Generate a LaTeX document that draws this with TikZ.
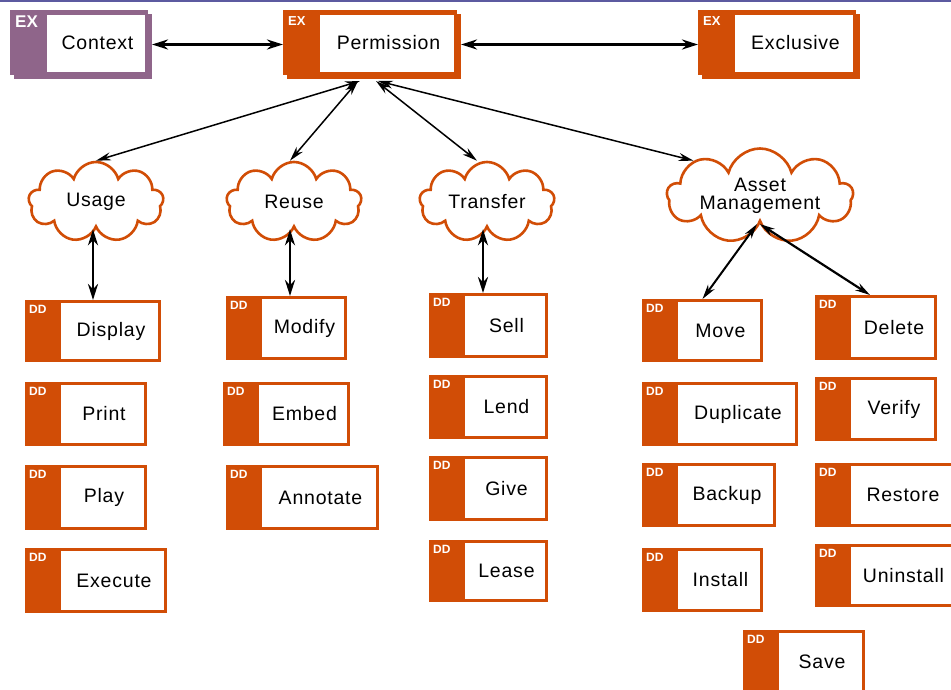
\documentclass[tikz,border=0pt]{standalone}
\usepackage{fontspec}
\setmainfont{Liberation Sans}
\usetikzlibrary{shapes.symbols,arrows.meta,calc}
\definecolor{orng}{RGB}{209,77,6}
\definecolor{purp}{RGB}{143,101,138}
\definecolor{topline}{RGB}{92,90,160}

\tikzset{
  ddbase/.style={rectangle, fill=orng, inner sep=0pt, outer sep=0pt},
  ddtag/.style={anchor=north west, inner sep=0pt, text=white, font=\fontsize{12}{12}\selectfont\bfseries},
  extag/.style={anchor=north west, inner sep=0pt, text=white, font=\fontsize{13}{13}\selectfont\bfseries},
  lbl/.style={inner sep=0pt, text=black, font=\fontsize{19.5}{23}\selectfont\addfontfeatures{LetterSpace=4}},
  cloudnode/.style={cloud, cloud puffs=9, cloud ignores aspect, draw=orng, line width=2.6pt, fill=white, inner sep=0pt, align=center, font=\fontsize{19.5}{21}\selectfont\addfontfeatures{LetterSpace=4}},
  link/.style={draw=black, line width=1.5pt, {Stealth[length=15pt,width=8pt]}-{Stealth[length=15pt,width=8pt]}},
  thicklink/.style={draw=black, line width=2.8pt, {Stealth[length=16pt,width=10pt]}-{Stealth[length=16pt,width=10pt]}},
}

% DD box: name, x0, y0, x1, y1, text
\newcommand\ddbox[6]{%
  \node[ddbase, minimum width={(#4-#2)*1pt}, minimum height={(#5-#3)*1pt}] (#1) at ({(#2+#4)/2},{(#3+#5)/2}) {};
  \fill[white] ([shift={(36pt,-3pt)}]#1.north west) rectangle ([shift={(-3pt,3pt)}]#1.south east);
  \node[ddtag] at ([shift={(4pt,-5pt)}]#1.north west) {DD};
  \node[lbl] at ($([xshift=36pt]#1.west)!0.5!(#1.east)$) {#6};
}
% EX box with shadow: name, x0, y0, x1, y1, text, colour, tag style
\newcommand\exbox[8]{%
  \fill[#7] (#2+4,#3+4) rectangle (#4,#5);
  \node[ddbase, fill=#7, minimum width={(#4-#2-4)*1pt}, minimum height={(#5-#3-4)*1pt}] (#1) at ({(#2+#4-4)/2},{(#3+#5-4)/2}) {};
  \fill[white] ([shift={(37pt,-5pt)}]#1.north west) rectangle ([shift={(-3pt,3pt)}]#1.south east);
  \node[#8] at ([shift={(5pt,-6pt)}]#1.north west) {EX};
  \node[lbl] at ($([xshift=37pt]#1.west)!0.5!(#1.east)$) {#6};
}

\begin{document}
\begin{tikzpicture}[x=1pt, y=-1pt]
\useasboundingbox (0,0) rectangle (951,690);
\clip (0,0) rectangle (951,690);
\fill[white] (0,0) rectangle (951,690);
\fill[topline] (0,0) rectangle (951,2);

% top row
\exbox{ctx}{10}{10}{152}{79}{Context}{purp}{extag,font=\fontsize{17}{17}\selectfont\bfseries}
\exbox{perm}{283}{10}{461}{79}{Permission}{orng}{extag}
\exbox{excl}{698}{10}{860}{79}{Exclusive}{orng}{extag}

% clouds
\node[cloudnode, minimum width=135pt, minimum height=80pt] (usage) at (96,202) {Usage};
\node[cloudnode, minimum width=135pt, minimum height=80pt] (reuse) at (294,202) {Reuse};
\node[cloudnode, minimum width=135pt, minimum height=80pt] (transfer) at (487,202) {Transfer};
\node[cloudnode, minimum width=186pt, minimum height=95pt] (asset) at (760,196) {Asset\\[-3pt]Management};

% DD boxes
\ddbox{disp}{25}{300}{161}{362}{Display}
\ddbox{print}{25}{382}{147}{446}{Print}
\ddbox{play}{25}{465}{147}{530}{Play}
\ddbox{exec}{25}{548}{167}{613}{Execute}
\ddbox{modify}{226}{296}{347}{360}{Modify}
\ddbox{embed}{223}{382}{350}{446}{Embed}
\ddbox{annot}{226}{465}{379}{530}{Annotate}
\ddbox{sell}{429}{293}{548}{358}{Sell}
\ddbox{lend}{429}{375}{548}{439}{Lend}
\ddbox{give}{429}{456}{548}{521}{Give}
\ddbox{lease}{429}{540}{548}{602}{Lease}
\ddbox{move}{642}{299}{763}{362}{Move}
\ddbox{dup}{642}{382}{798}{446}{Duplicate}
\ddbox{backup}{642}{463}{776}{527}{Backup}
\ddbox{install}{642}{548}{763}{612}{Install}
\ddbox{delete}{815}{295}{937}{360}{Delete}
\ddbox{verify}{815}{377}{937}{441}{Verify}
\ddbox{restore}{815}{463}{955}{527}{Restore}
\ddbox{uninst}{815}{544}{956}{607}{Uninstall}
\ddbox{save}{743}{630}{865}{694}{Save}

% connectors
\draw[thicklink] ([shift={(4pt,-2pt)}]ctx.east) -- ([yshift=-2pt]perm.west);
\draw[thicklink] ([shift={(4pt,-2pt)}]perm.east) -- ([yshift=-2pt]excl.west);
\draw[link] ([shift={(-10pt,-6pt)}]perm.south) -- (usage.north);
\draw[link] ([shift={(-12pt,-6pt)}]perm.south) -- ([xshift=-4pt]reuse.north);
\draw[link] ([shift={(6pt,-6pt)}]perm.south) -- ([xshift=-10pt]transfer.north);
\draw[link] ([shift={(8pt,-6pt)}]perm.south) -- (asset.152);
\draw[thicklink] (disp.north |- usage.south) -- (disp.north);
\draw[thicklink] ([xshift=-4pt]reuse.south) -- ([xshift=-4pt]reuse.south |- modify.north);
\draw[thicklink] ([xshift=-4pt]transfer.south) -- ([xshift=-4pt]transfer.south |- sell.north);
\draw[link, line width=2pt] ([xshift=-3pt]asset.south) -- (move.north);
\draw[link, line width=2.2pt] (asset.south) -- ([xshift=-6pt]delete.north);
\end{tikzpicture}
\end{document}
